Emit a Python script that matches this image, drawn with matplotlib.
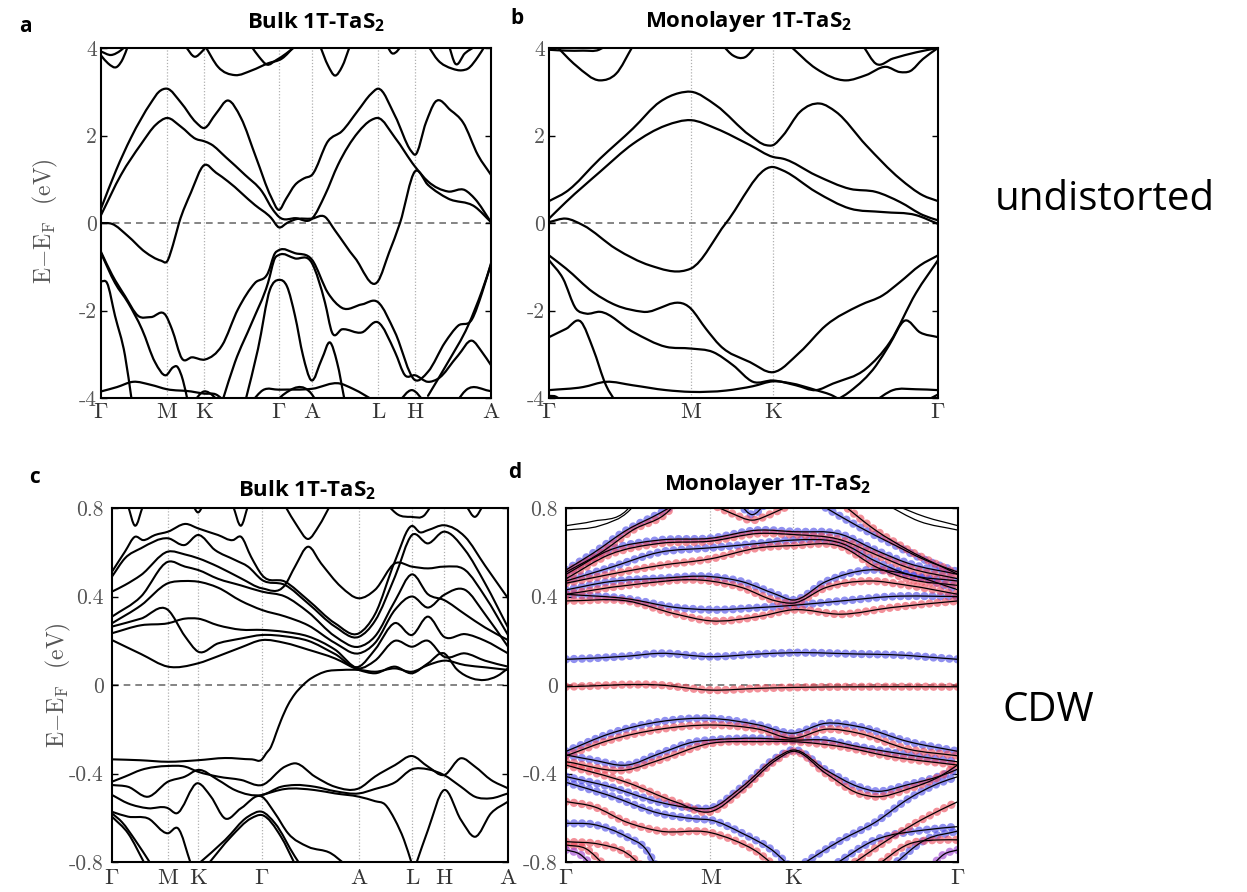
import numpy as np
import matplotlib
matplotlib.use('Agg')
import matplotlib.pyplot as plt
from matplotlib.path import Path
from matplotlib.patches import PathPatch

plt.rcParams['mathtext.fontset'] = 'custom'
plt.rcParams['mathtext.rm'] = 'Open Sans'
plt.rcParams['mathtext.bf'] = 'Open Sans:bold'

# ---- k-paths (path length units) and labels ----
bulk_u_kticks = [0, 66, 103, 178, 211, 277, 314, 390]
bulk_c_kticks = [0, 56, 86, 150, 247, 300, 332, 396]
bulk_klabels = [r'$\Gamma$', 'M', 'K', r'$\Gamma$', 'A', 'L', 'H', 'A']
mono_u_kticks = [0, 142, 224, 389]
mono_c_kticks = [0, 145, 228, 394]
mono_klabels = [r'$\Gamma$', 'M', 'K', r'$\Gamma$']

# ---- a: bulk, undistorted ----
a_dbands = [
    [(0,0.33),(15,1.2),(30,1.95),(50,2.75),(58,3.0),(66,3.07),(80,2.75),(95,2.3),(103,2.17),(115,2.5),(127,2.8),
     (140,2.4),(155,1.5),(170,0.6),(178,0.3),(185,0.55),(194,0.87),(203,1.02),(211,1.1),(227,1.87),(241,2.1),
     (257,2.57),(270,2.95),(277,3.07),(294,2.45),(310,1.65),(314,1.56),(325,2.3),(334,2.76),(350,2.57),(362,2.3),
     (377,1.55),(390,1.1)],
    [(0,0.18),(20,1.1),(40,1.8),(55,2.25),(66,2.4),(80,2.2),(95,1.92),(103,1.87),(110,1.8),(125,1.5),(144,1.1),
     (161,0.72),(172,0.3),(178,0.14),(195,0.11),(211,0.1),(224,0.64),(237,1.33),(257,2.07),(270,2.35),(277,2.4),
     (294,1.95),(314,1.29),(327,0.95),(347,0.72),(364,0.75),(374,0.55),(390,0.02)],
    [(0,0.0),(11,-0.02),(27,-0.3),(44,-0.66),(60,-0.86),(66,-0.88),(72,-0.5),(78,0.0),(90,0.7),(103,1.32),
     (115,1.15),(127,0.95),(154,0.41),(170,0.12),(178,-0.1),(186,0.0),(194,0.08),(211,0.1),(224,0.14),
     (234,-0.17),(254,-0.8),(277,-1.33),(288,-0.68),(299,0.0),(314,1.18),(327,0.87),(347,0.56),(374,0.37),(390,0.02)],
]
a_high = [
    [(0,3.83),(7,3.65),(16,3.57),(22,3.76),(27,4.05)],
    [(0,3.92),(10,3.84),(20,3.95),(25,4.05)],
    [(84,4.05),(94,3.8),(101,3.92),(106,4.05)],
    [(104,4.05),(117,3.57),(134,3.38),(151,3.49),(167,3.65),(181,3.76),(194,4.05)],
    [(150,4.05),(158,3.8),(166,3.62),(175,3.72),(185,3.87),(195,4.05)],
    [(219,4.05),(227,3.6),(234,3.37),(241,3.57),(249,4.05)],
    [(286,4.05),(291,3.88),(297,3.95),(300,4.05)],
    [(327,4.05),(337,3.72),(351,3.53),(361,3.49),(367,3.53),(377,3.8),(384,4.05)],
    [(348,4.05),(354,3.65),(364,3.88),(375,4.05)],
]
a_valence = [
    [(0,-0.66),(11,-1.18),(24,-1.67),(37,-2.12),(50,-2.15),(65,-2.12),(71,-2.43),(81,-3.1),(91,-3.07),(104,-3.12),
     (121,-2.8),(137,-1.97),(154,-1.37),(167,-1.14),(174,-0.69),(178,-0.62),(194,-0.69),(211,-0.84),(227,-1.6),
     (241,-1.94),(261,-1.86),(277,-1.81),(294,-2.5),(314,-3.59),(327,-3.4),(344,-2.73),(357,-2.35),(371,-2.2),
     (381,-1.6),(390,-0.92)],
    [(0,-0.69),(14,-1.37),(27,-1.82),(41,-2.43),(54,-3.18),(65,-3.48),(72,-3.3),(76,-3.28),(82,-3.6),(87,-4.1)],
    [(121,-4.1),(134,-3.18),(151,-2.27),(167,-1.37),(174,-0.8),(178,-0.73),(194,-0.81),(211,-0.92),(224,-1.82),
     (231,-2.5),(241,-2.43),(261,-2.5),(277,-2.27),(294,-2.95),(304,-3.48),(314,-3.48),(327,-3.63),(337,-3.56),
     (357,-3.03),(371,-2.69),(381,-2.95),(390,-3.25)],
    [(327,-3.95),(347,-3.18),(367,-2.35),(381,-1.55),(390,-0.95)],
    [(0,-1.33),(6,-1.37),(14,-2.12),(24,-3.03),(31,-4.1)],
    [(144,-4.1),(157,-2.88),(169,-1.52),(178,-1.3),(186,-1.45),(194,-2.12),(202,-3.03),(210,-3.59),(221,-3.1),
     (229,-2.73),(236,-3.18),(244,-4.1)],
    [(0,-3.85),(16,-3.75),(32,-3.63),(50,-3.7),(66,-3.8),(90,-3.85),(103,-3.9),(115,-3.92),(125,-4.1)],
    [(150,-4.1),(162,-3.82),(178,-3.81),(211,-3.79),(239,-3.67),(252,-3.79),(276,-4.1)],
    [(174,-4.1),(182,-3.93),(211,-3.92),(216,-4.1)],
    [(92,-4.1),(103,-3.85),(113,-3.97),(118,-4.1)],
    [(297,-4.1),(311,-3.82),(324,-4.1)],
    [(355,-4.1),(365,-3.82),(390,-3.84)],
]

# ---- b: monolayer, undistorted ----
b_dbands = [
    [(0,0.5),(17,0.71),(51,1.47),(84,2.16),(111,2.77),(130,2.97),(142,3.0),(167,2.69),(201,2.0),(217,1.78),
     (224,1.78),(234,2.0),(251,2.54),(271,2.73),(287,2.54),(317,1.78),(351,1.01),(374,0.63),(389,0.5)],
    [(0,0.1),(17,0.48),(51,1.17),(84,1.81),(117,2.23),(142,2.35),(167,2.16),(201,1.78),(224,1.51),(234,1.47),
     (267,1.09),(301,0.78),(327,0.71),(351,0.48),(374,0.18),(389,0.06)],
    [(0,0.02),(17,0.1),(34,-0.05),(67,-0.59),(101,-0.97),(137,-1.08),(142,-1.04),(177,0.0),(224,1.28),(234,1.2),
     (267,0.71),(301,0.33),(334,0.25),(367,0.18),(389,-0.02)],
]
b_high = [
    [(0,3.96),(17,3.94),(34,3.94),(50,3.96),(57,4.05)],
    [(7,4.05),(27,3.6),(51,3.26),(67,3.41),(84,4.05)],
    [(174,4.05),(184,3.83),(196,3.79),(207,4.05)],
    [(241,4.05),(267,3.53),(297,3.26),(317,3.38),(337,3.57),(351,3.45),(361,3.47),(374,3.75),(389,4.0)],
    [(314,4.05),(327,3.64),(344,3.76),(367,3.9),(389,4.0)],
]
b_valence = [
    [(0,-0.74),(17,-1.04),(44,-1.58),(67,-1.88),(94,-2.03),(142,-1.96),(157,-2.42),(171,-2.8),(201,-3.18),
     (224,-3.41),(251,-2.95),(277,-2.34),(311,-1.88),(334,-1.65),(351,-1.35),(371,-0.97),(389,-0.74)],
    [(0,-0.85),(14,-1.27),(27,-1.96),(37,-2.07),(51,-2.03),(84,-2.49),(117,-2.83),(142,-2.87),(164,-2.95),
     (184,-3.25),(204,-3.63),(224,-3.6),(247,-3.71),(267,-3.82),(284,-3.67),(317,-3.33),(341,-2.72),
     (367,-1.6),(389,-0.85)],
    [(0,-2.61),(17,-2.42),(32,-2.26),(44,-2.87),(57,-3.71),(67,-4.1)],
    [(284,-4.1),(301,-3.85),(327,-3.26),(340,-2.8),(356,-2.23),(371,-2.5),(389,-2.61)],
    [(0,-3.82),(34,-3.75),(57,-3.63),(84,-3.71),(117,-3.82),(142,-3.86),(177,-3.83),(204,-3.73),(224,-3.62),
     (241,-3.66),(267,-3.82),(284,-3.95),(295,-4.1)],
    [(324,-4.1),(344,-3.82),(367,-3.8),(389,-3.82)],
    [(0,-3.95),(7,-3.97),(14,-4.1)],
    [(374,-4.1),(389,-3.92)],
]

# ---- c: bulk, CDW ----
c_upper = [
    [(0,.512),(13,.603),(23,.670),(31,.655),(43,.678),(56,.693),(74,.728),(86,.708),(106,.678),(121,.655),
     (129,.670),(139,.58),(150,.497),(173,.467),(196,.384),(223,.279),(247,.234),(263,.32),(283,.56),(300,.719),
     (308,.69),(316,.70),(332,.722),(353,.67),(373,.54),(396,.392)],
    [(0,.490),(13,.573),(29,.618),(56,.663),(73,.633),(86,.678),(103,.610),(123,.565),(136,.535),(150,.475),
     (173,.452),(196,.369),(223,.264),(247,.218),(263,.29),(283,.49),(300,.678),(316,.64),(332,.693),(353,.61),
     (373,.46),(396,.26)],
    [(0,.422),(13,.452),(29,.497),(56,.603),(73,.590),(86,.573),(106,.535),(129,.482),(150,.437),(173,.452),
     (183,.535),(196,.625),(209,.550),(229,.444),(247,.392),(263,.43),(283,.55),(300,.535),(316,.527),(332,.535),
     (353,.52),(373,.40),(396,.226)],
    [(0,.309),(29,.40),(56,.557),(73,.535),(86,.520),(106,.48),(129,.45),(150,.422),(173,.40),(196,.33),(223,.22),
     (247,.173),(263,.22),(283,.38),(300,.50),(316,.41),(332,.384),(353,.32),(373,.26),(396,.203)],
    [(0,.279),(29,.36),(56,.460),(73,.47),(86,.467),(106,.44),(129,.38),(150,.339),(173,.31),(196,.27),(223,.19),
     (247,.143),(263,.19),(283,.34),(300,.40),(316,.35),(332,.407),(353,.43),(373,.32),(396,.173)],
    [(0,.264),(29,.30),(56,.339),(73,.22),(86,.151),(106,.188),(129,.21),(150,.226),(173,.22),(196,.20),(223,.14),
     (247,.083),(263,.16),(283,.28),(300,.226),(316,.309),(332,.218),(353,.23),(373,.20),(396,.143)],
    [(0,.234),(29,.27),(56,.279),(73,.30),(86,.30),(106,.27),(129,.25),(150,.249),(173,.24),(196,.22),(223,.16),
     (247,.075),(263,.11),(283,.20),(300,.173),(316,.20),(332,.128),(353,.143),(373,.11),(396,.083)],
    [(0,.203),(29,.14),(56,.083),(86,.098),(106,.13),(129,.17),(150,.203),(173,.19),(196,.16),(223,.12),(247,.068),
     (263,.053),(283,.083),(300,.053),(316,.098),(332,.143),(345,.07),(360,.03),(373,.023),(385,.04),(396,.075)],
    [(0,-.336),(28,-.34),(56,-.347),(86,-.34),(113,-.33),(140,-.336),(150,-.336),(154,-.31),(159,-.28),(164,-.22),
     (169,-.16),(176,-.09),(183,-.04),(190,-.005),(196,.02),(205,.045),(213,.06),(230,.068),(247,.068),(263,.06),
     (283,.075),(300,.06),(316,.09),(332,.11),(353,.09),(373,.08),(396,.068)],
]
c_high = [
    [(16,.81),(23,.72),(31,.81)],
    [(81,.81),(86,.78),(91,.81)],
    [(121,.81),(129,.72),(136,.81)],
    [(173,.81),(185,.72),(196,.66),(207,.72),(218,.81)],
    [(276,.81),(286,.77),(299,.76),(313,.77),(319,.81)],
    [(354,.81),(363,.76),(371,.81)],
]
c_lower = [
    [(0,-.437),(13,-.414),(29,-.384),(56,-.366),(73,-.369),(86,-.392),(106,-.414),(129,-.429),(150,-.452),
     (173,-.369),(183,-.354),(203,-.414),(223,-.460),(247,-.467),(263,-.414),(283,-.362),(300,-.321),(316,-.369),
     (332,-.407),(349,-.331),(363,-.369),(379,-.429),(396,-.467)],
    [(0,-.452),(16,-.460),(36,-.505),(56,-.437),(73,-.414),(86,-.384),(106,-.429),(123,-.475),(150,-.497),
     (169,-.460),(183,-.452),(203,-.460),(223,-.480),(247,-.490),(263,-.47),(283,-.44),(300,-.381),(316,-.381),
     (332,-.407),(349,-.460),(363,-.505),(379,-.512),(396,-.490)],
    [(0,-.497),(16,-.535),(36,-.557),(56,-.557),(64,-.580),(86,-.444),(99,-.505),(113,-.603),(129,-.557),
     (150,-.505),(163,-.580),(176,-.670),(196,-.731),(219,-.761),(233,-.81)],
    [(150,-.497),(173,-.47),(203,-.475),(223,-.49),(247,-.505),(263,-.525),(273,-.54),(283,-.610),(292,-.70),
     (300,-.81)],
    [(304,-.81),(316,-.655),(332,-.475),(349,-.610),(363,-.686),(379,-.580),(396,-.527)],
    [(0,-.573),(16,-.595),(36,-.603),(56,-.670),(66,-.648),(79,-.81)],
    [(0,-.595),(16,-.670),(33,-.81)],
    [(0,-.58),(10,-.62),(23,-.70),(39,-.81)],
    [(86,-.81),(113,-.701),(136,-.595),(150,-.573),(163,-.625),(183,-.776),(188,-.81)],
    [(96,-.81),(119,-.686),(139,-.603),(150,-.588),(169,-.686),(183,-.81)],
]

# ---- d: monolayer, CDW (spin resolved) ----
d_spin_up = [
    [(0,.116),(61,.13),(94,.143),(145,.128),(194,.14),(228,.146),(294,.14),(327,.137),(394,.116)],
    [(0,.43),(44,.467),(94,.482),(145,.49),(177,.467),(211,.41),(228,.384),(261,.467),(304,.52),(344,.50),(394,.43)],
    [(0,.41),(61,.39),(111,.35),(145,.34),(194,.35),(228,.36),(277,.38),(327,.40),(394,.40)],
    [(0,.47),(44,.53),(94,.60),(145,.62),(194,.64),(228,.655),(277,.64),(311,.56),(344,.50),(394,.47)],
    [(0,.50),(44,.61),(94,.655),(145,.663),(194,.70),(228,.693),(277,.68),(311,.61),(344,.55),(394,.50)],
    [(0,.52),(27,.595),(61,.70),(94,.776),(111,.82)],
    [(174,.82),(187,.77),(201,.82)],
    [(254,.82),(294,.716),(327,.64),(361,.565),(394,.51)],
    [(0,-.30),(44,-.22),(94,-.166),(145,-.151),(194,-.181),(228,-.218),(261,-.173),(294,-.188),(344,-.256),(394,-.30)],
    [(0,-.316),(27,-.339),(61,-.362),(94,-.31),(130,-.256),(145,-.249),(194,-.241),(228,-.249),(261,-.249),
     (294,-.279),(344,-.316),(394,-.347)],
    [(0,-.414),(44,-.46),(94,-.53),(130,-.557),(145,-.557),(177,-.46),(211,-.33),(228,-.294),(261,-.384),
     (294,-.46),(311,-.48),(344,-.45),(377,-.41),(394,-.38)],
    [(0,-.44),(44,-.50),(94,-.58),(130,-.605),(145,-.61),(177,-.67),(211,-.76),(225,-.82)],
    [(0,-.625),(27,-.63),(61,-.686),(81,-.746),(91,-.82)],
    [(234,-.82),(277,-.70),(311,-.62),(344,-.515),(377,-.44),(394,-.414)],
    [(267,-.82),(311,-.70),(361,-.655),(394,-.64)],
    [(327,-.82),(361,-.70),(394,-.66)],
]
d_spin_dn = [
    [(0,-.008),(94,0.0),(145,-.023),(194,-.015),(228,-.011),(300,-.008),(394,-.008)],
    [(0,.41),(61,.45),(145,.47),(177,.44),(211,.38),(228,.37),(261,.44),(304,.47),(344,.45),(394,.41)],
    [(0,.38),(61,.38),(111,.32),(145,.29),(194,.31),(228,.34),(277,.32),(327,.35),(394,.38)],
    [(0,.46),(44,.50),(94,.54),(145,.57),(194,.62),(228,.63),(277,.625),(311,.535),(344,.48),(394,.45)],
    [(0,.48),(44,.59),(94,.64),(145,.65),(194,.685),(228,.68),(277,.655),(311,.59),(344,.53),(394,.48)],
    [(0,.51),(34,.595),(67,.70),(104,.79),(110,.82)],
    [(145,.82),(167,.775),(187,.745),(207,.775),(228,.82)],
    [(277,.82),(311,.70),(344,.61),(394,.50)],
    [(0,-.32),(44,-.249),(94,-.20),(145,-.181),(194,-.20),(228,-.241),(261,-.20),(294,-.218),(344,-.29),(394,-.32)],
    [(0,-.347),(61,-.384),(94,-.339),(145,-.264),(194,-.256),(228,-.256),(277,-.279),(327,-.324),(394,-.362)],
    [(0,-.362),(61,-.44),(111,-.53),(145,-.573),(177,-.475),(211,-.34),(228,-.30),(261,-.399),(294,-.49),
     (311,-.505),(344,-.47),(377,-.41),(394,-.36)],
    [(0,-.527),(28,-.55),(61,-.62),(94,-.66),(145,-.667),(168,-.70),(194,-.76),(210,-.82)],
    [(0,-.708),(34,-.72),(61,-.76),(77,-.82)],
    [(0,-.723),(20,-.74),(40,-.82)],
    [(284,-.82),(327,-.69),(361,-.60),(394,-.527)],
    [(311,-.82),(344,-.72),(377,-.70),(394,-.70)],
]
d_mixed = [
    [(0,-.745),(14,-.765),(27,-.82)],
    [(367,-.82),(380,-.765),(394,-.745)],
]
d_plain = [
    [(0,.72),(27,.74),(61,.79),(67,.82)],
    [(0,.70),(34,.72),(64,.79),(70,.82)],
    [(327,.82),(361,.76),(394,.72)],
    [(320,.82),(355,.74),(394,.70)],
]


def smooth_path(pts):
    k = np.array([p[0] for p in pts], float)
    e = np.array([p[1] for p in pts], float)
    h = np.diff(k)
    d = np.diff(e) / h
    m = np.empty(len(k))
    m[0], m[-1] = d[0], d[-1]
    if len(k) > 2:
        m[1:-1] = (d[:-1] * h[1:] + d[1:] * h[:-1]) / (h[:-1] + h[1:])
    verts = [(k[0], e[0])]
    codes = [Path.MOVETO]
    for i in range(len(k) - 1):
        verts += [(k[i] + h[i] / 3, e[i] + m[i] * h[i] / 3),
                  (k[i + 1] - h[i] / 3, e[i + 1] - m[i + 1] * h[i] / 3),
                  (k[i + 1], e[i + 1])]
        codes += [Path.CURVE4] * 3
    return Path(verts, codes)


def draw(ax, bands, color='k', lw=1.6, **kw):
    for pts in bands:
        ax.add_patch(PathPatch(smooth_path(pts), fill=False, edgecolor=color, lw=lw,
                               capstyle='round', joinstyle='round', **kw))


def dots(ax, bands, color):
    for pts in bands:
        ax.add_patch(PathPatch(smooth_path(pts), fill=False, edgecolor=color, lw=6.0, alpha=0.6,
                               linestyle=(0, (0.01, 0.95)), capstyle='round', zorder=2))


W, H = 1247, 892
fig = plt.figure(figsize=(W / 100, H / 100), dpi=100)


def px_axes(x0, y0, x1, y1):
    return fig.add_axes([x0 / W, 1 - y1 / H, (x1 - x0) / W, (y1 - y0) / H])


def style(ax, kticks, klabels, ylim, yticks, ylabels, ypad, xpad):
    ax.set_xlim(kticks[0], kticks[-1])
    ax.set_ylim(*ylim)
    for k in kticks[1:-1]:
        ax.axvline(k, color='#b0b0b0', lw=0.9, ls=(0, (1, 1.5)), zorder=0)
    ax.axhline(0, color='#707070', lw=1.2, ls=(0, (4, 3)), zorder=0)
    ax.set_xticks(kticks)
    ax.set_xticklabels(klabels)
    ax.set_yticks(yticks)
    ax.set_yticklabels(ylabels)
    ax.tick_params(axis='x', length=0, pad=xpad, labelsize=16.5, labelcolor='#333333')
    ax.tick_params(axis='y', direction='in', length=4, width=1, right=True, pad=ypad,
                   labelsize=15.5, labelcolor='#555555')
    for lab in ax.get_xticklabels() + ax.get_yticklabels():
        lab.set_fontfamily('cmr10')
        lab.set_math_fontfamily('cm')
    for s in ax.spines.values():
        s.set_linewidth(1.5)


def ylabel(x, y):
    fig.text(x / W, 1 - y / H, r'$\mathrm{E{-}E_F}$  (eV)', rotation=90, ha='center', va='center',
             fontsize=17, color='#555555', fontfamily='cmr10', math_fontfamily='cm')


# a
ax = px_axes(101, 48, 491, 398)
draw(ax, a_dbands)
draw(ax, a_high)
draw(ax, a_valence)
style(ax, bulk_u_kticks, bulk_klabels, (-4, 4), [-4, -2, 0, 2, 4], ['-4', '-2', '0', '2', '4'], 3, 3)
ylabel(45, 221)

# b
ax = px_axes(549, 48, 938, 398)
draw(ax, b_dbands)
draw(ax, b_high)
draw(ax, b_valence)
style(ax, mono_u_kticks, mono_klabels, (-4, 4), [-4, -2, 0, 2, 4], ['-4', '-2', '0', '2', '4'], 3, 3)

# c
ax = px_axes(112, 508, 508, 862)
draw(ax, c_upper, lw=1.5)
draw(ax, c_high, lw=1.5)
draw(ax, c_lower, lw=1.5)
style(ax, bulk_c_kticks, bulk_klabels, (-0.8, 0.8), [-0.8, -0.4, 0, 0.4, 0.8],
      ['-0.8', '-0.4', '0', '0.4', '0.8'], 6, 5)
ylabel(58, 685)

# d
ax = px_axes(566, 508, 958, 862)
dots(ax, d_spin_up, '#4646e6')
dots(ax, d_spin_dn, '#ec4656')
dots(ax, d_mixed, '#9a3ad0')
draw(ax, d_spin_up, lw=0.9, zorder=3)
draw(ax, d_spin_dn, lw=0.9, zorder=3)
draw(ax, d_mixed, lw=0.9, zorder=3)
draw(ax, d_plain, lw=0.9, zorder=3)
style(ax, mono_c_kticks, mono_klabels, (-0.8, 0.8), [-0.8, -0.4, 0, 0.4, 0.8],
      ['-0.8', '-0.4', '0', '0.4', '0.8'], 6, 5)

# titles and panel letters
title_kw = dict(ha='center', va='center', fontsize=16, fontweight='bold', fontfamily='Open Sans')
fig.text(316 / W, 1 - 22 / H, r'Bulk 1T-TaS$_\mathbf{2}$', **title_kw)
fig.text(748 / W, 1 - 22 / H, r'Monolayer 1T-TaS$_\mathbf{2}$', **title_kw)
fig.text(307 / W, 1 - 490 / H, r'Bulk 1T-TaS$_\mathbf{2}$', **title_kw)
fig.text(767 / W, 1 - 485 / H, r'Monolayer 1T-TaS$_\mathbf{2}$', **title_kw)

letter_kw = dict(ha='center', va='center', fontsize=15, fontweight='bold', fontfamily='Open Sans')
for s, x, y in [('a', 25, 26), ('b', 517, 19), ('c', 35, 477), ('d', 515, 473)]:
    fig.text(x / W, 1 - y / H, s, **letter_kw)

fig.text(995 / W, 1 - 210 / H, 'undistorted', ha='left', va='baseline', fontsize=29, fontfamily='Open Sans')
fig.text(1003 / W, 1 - 721 / H, 'CDW', ha='left', va='baseline', fontsize=29, fontfamily='Open Sans')

fig.savefig('out.png', dpi=100)
